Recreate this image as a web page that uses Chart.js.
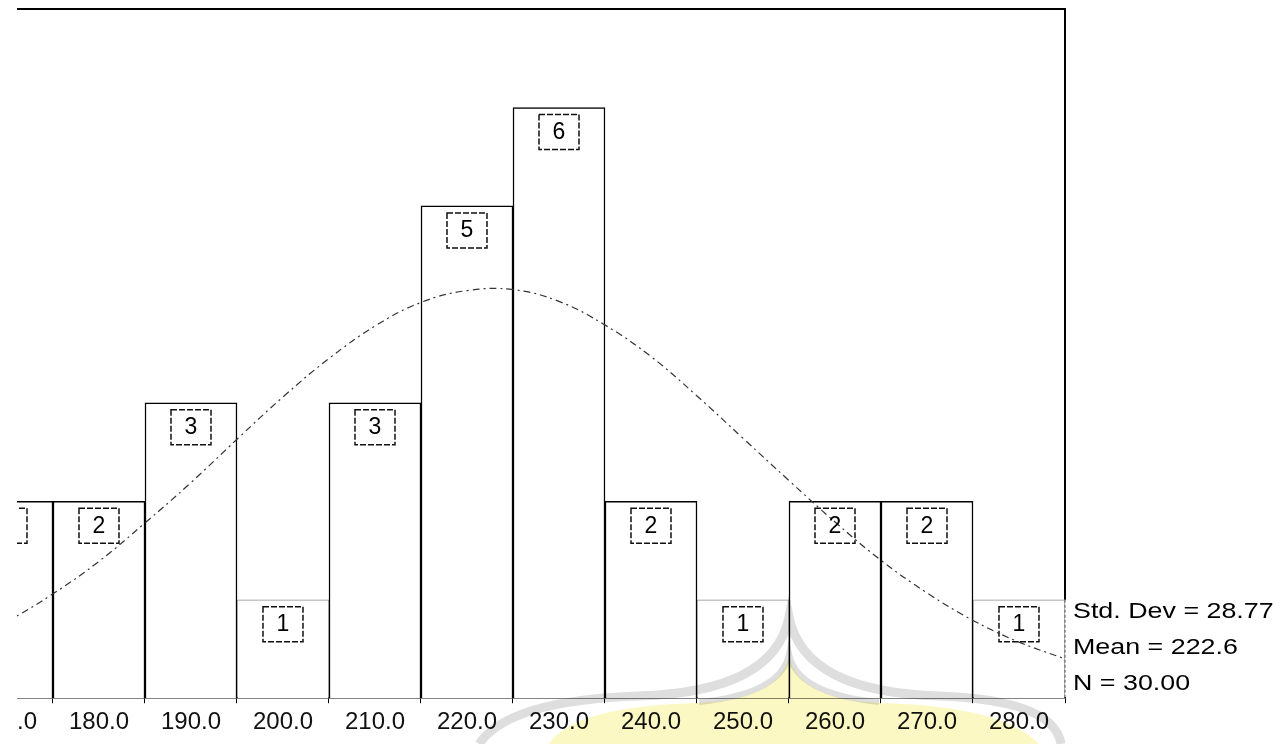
<!DOCTYPE html>
<html>
<head>
<meta charset="utf-8">
<script src="https://cdn.jsdelivr.net/npm/chart.js@4.4.0/dist/chart.umd.min.js"></script>
<style>
  html, body { margin: 0; padding: 0; background: #fff; overflow: hidden; }
  #wrap { position: absolute; left: -50px; top: 0; width: 1336px; height: 744px; }
</style>
</head>
<body>
<div id="wrap"><canvas id="histChart"></canvas></div>
<script>
// histogram bins (bin centres) and counts
const binCenters = [170, 180, 190, 200, 210, 220, 230, 240, 250, 260, 270, 280];
const binCounts  = [2, 2, 3, 1, 3, 5, 6, 2, 1, 2, 2, 1];

// normal curve
const curveX = [165, 170, 175, 180, 185, 190, 195, 200, 205, 210, 215, 220, 225,
                230, 235, 240, 245, 250, 255, 260, 265, 270, 275, 280, 285];
const curveY = [0.56, 0.78, 1.06, 1.39, 1.78, 2.19, 2.63, 3.06, 3.45, 3.78, 4.02, 4.14, 4.15,
                4.03, 3.79, 3.47, 3.07, 2.64, 2.21, 1.79, 1.40, 1.07, 0.79, 0.57, 0.40];

const tickValues = [170, 180, 190, 200, 210, 220, 230, 240, 250, 260, 270, 280];
const statsLines = ['Std. Dev = 28.77', 'Mean = 222.6', 'N = 30.00'];

const FONT = '"Liberation Sans", Arial, sans-serif';

// faint logo watermark at the bottom
const watermark = {
    id: 'watermark',
    afterDraw(chart) {
        const ctx = chart.ctx;
        const x = chart.scales.x;
        const peak = x.getPixelForValue(255);
        ctx.save();
        ctx.globalCompositeOperation = 'multiply';
        ctx.fillStyle = 'rgb(252,248,195)';
        ctx.beginPath();
        ctx.moveTo(peak - 240, 744);
        ctx.quadraticCurveTo(peak - 215, 706, peak - 90, 703);
        ctx.quadraticCurveTo(peak - 10, 699, peak, 657);
        ctx.quadraticCurveTo(peak + 10, 699, peak + 90, 703);
        ctx.quadraticCurveTo(peak + 215, 706, peak + 250, 744);
        ctx.closePath();
        ctx.fill();
        ctx.strokeStyle = 'rgb(222,222,222)';
        ctx.lineWidth = 9;
        ctx.beginPath();
        ctx.moveTo(peak - 310, 744);
        ctx.quadraticCurveTo(peak - 280, 700, peak - 150, 696);
        ctx.quadraticCurveTo(peak - 15, 692, peak, 617);
        ctx.quadraticCurveTo(peak + 15, 692, peak + 150, 696);
        ctx.quadraticCurveTo(peak + 265, 700, peak + 272, 744);
        ctx.stroke();
        ctx.lineWidth = 6;
        ctx.beginPath();
        ctx.moveTo(peak - 90, 702);
        ctx.quadraticCurveTo(peak - 8, 694, peak, 654);
        ctx.quadraticCurveTo(peak + 8, 694, peak + 90, 702);
        ctx.stroke();
        ctx.restore();
    }
};

// frame, count boxes, stats text
const decorations = {
    id: 'decorations',
    afterDatasetsDraw(chart) {
        const { ctx, chartArea, scales: { x, y } } = chart;
        ctx.save();
        // frame top + right
        ctx.strokeStyle = '#000';
        ctx.lineWidth = 2;
        ctx.beginPath();
        ctx.moveTo(chartArea.left, chartArea.top);
        ctx.lineTo(chartArea.right, chartArea.top);
        ctx.lineTo(chartArea.right, y.getPixelForValue(1));
        ctx.stroke();
        ctx.lineWidth = 1;
        ctx.setLineDash([3, 2]);
        ctx.strokeStyle = '#555';
        ctx.beginPath();
        ctx.moveTo(chartArea.right, y.getPixelForValue(1));
        ctx.lineTo(chartArea.right, chartArea.bottom);
        ctx.stroke();

        // count boxes
        ctx.setLineDash([6, 2]);
        ctx.strokeStyle = '#111';
        ctx.lineWidth = 1.5;
        ctx.fillStyle = '#000';
        ctx.font = '23px ' + FONT;
        ctx.textAlign = 'center';
        ctx.textBaseline = 'middle';
        binCenters.forEach((b, i) => {
            const cx = x.getPixelForValue(b);
            const top = y.getPixelForValue(binCounts[i]) + 7;
            ctx.strokeRect(cx - 20, top, 40, 35);
            ctx.fillText(String(binCounts[i]), cx, top + 18);
        });
        ctx.restore();
    },
    afterDraw(chart) {
        const { ctx, chartArea } = chart;
        ctx.save();
        ctx.fillStyle = '#000';
        ctx.font = '22px ' + FONT;
        ctx.textAlign = 'left';
        ctx.textBaseline = 'alphabetic';
        statsLines.forEach((s, i) => {
            ctx.save();
            ctx.translate(chartArea.right + 8, chartArea.bottom - 80 + i * 36);
            ctx.scale(1.22, 1);
            ctx.fillText(s, 0, 0);
            ctx.restore();
        });
        // blank scan margin on the left
        ctx.fillStyle = '#fff';
        ctx.fillRect(0, 0, chartArea.left + 17, 744);
        ctx.restore();
    }
};

const ctx = document.getElementById('histChart').getContext('2d');
new Chart(ctx, {
    data: {
        datasets: [
            {
                type: 'line',
                label: 'Normal',
                data: curveX.map((v, i) => ({ x: v, y: curveY[i] })),
                borderColor: '#333',
                borderWidth: 1.2,
                borderDash: [7, 4, 2, 4],
                pointRadius: 0,
                tension: 0.4,
                fill: false,
                order: 0
            },
            {
                type: 'bar',
                label: 'Count',
                data: binCenters.map((v, i) => ({ x: v, y: binCounts[i] })),
                backgroundColor: '#fff',
                borderColor: binCounts.map(c => c === 1 ? 'rgba(0,0,0,0.45)' : '#000'),
                borderWidth: binCounts.map(c => c === 1 ? 1 : 1.5),
                borderSkipped: 'bottom',
                barPercentage: 1,
                categoryPercentage: 1,
                order: 1
            }
        ]
    },
    options: {
        responsive: true,
        maintainAspectRatio: false,
        animation: false,
        layout: { padding: { left: 50, right: 221, top: 9, bottom: 2 } },
        plugins: {
            legend: { display: false },
            tooltip: { enabled: false }
        },
        scales: {
            x: {
                type: 'linear',
                min: 169.24,
                max: 285,
                offset: false,
                afterBuildTicks: scale => {
                    scale.ticks = tickValues.map(v => ({ value: v }));
                },
                ticks: {
                    autoSkip: false,
                    maxRotation: 0,
                    color: '#111',
                    padding: 5,
                    font: { family: FONT, size: 24 },
                    callback: v => Number(v).toFixed(1)
                },
                grid: {
                    drawOnChartArea: false,
                    drawTicks: true,
                    tickLength: 5,
                    color: '#000'
                },
                border: { display: true, color: '#000', width: 1.5, dash: [14, 3] }
            },
            y: {
                display: false,
                min: 0,
                max: 7
            }
        }
    },
    plugins: [decorations, watermark]
});
</script>
</body>
</html>
